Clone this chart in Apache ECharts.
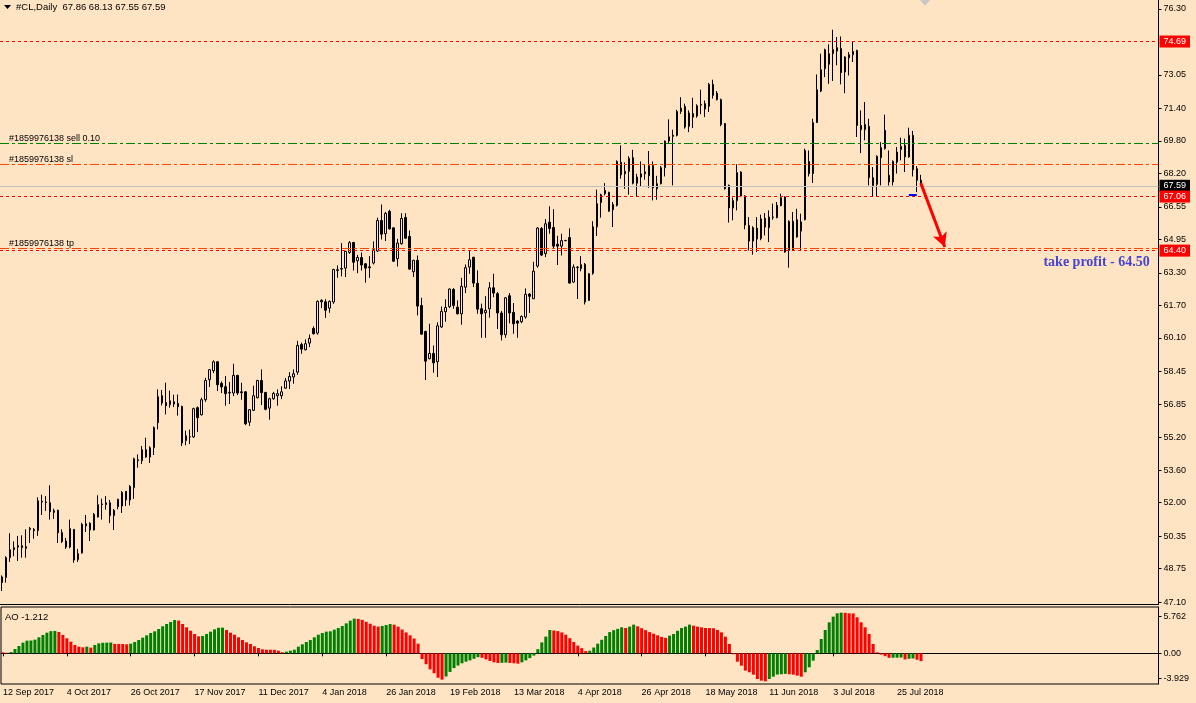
<!DOCTYPE html>
<html><head><meta charset="utf-8">
<script src="https://cdn.jsdelivr.net/npm/echarts@6/dist/echarts.min.js"></script>
<style>html,body{margin:0;padding:0;background:#FFE4C4;overflow:hidden}#c{width:1196px;height:703px}</style>
</head><body><div id="c"></div>
<script>
const opens = [48.06,48.31,49.29,49.68,49.81,49.88,49.83,50.67,50.68,50.62,
52.06,52.03,51.99,51.60,51.62,50.52,50.11,49.81,50.68,49.19,
49.52,50.85,50.98,50.65,51.29,51.93,51.90,51.99,51.36,52.16,
51.83,52.55,52.13,52.73,54.06,54.06,54.60,54.24,54.70,55.93,
57.26,56.92,56.82,56.96,56.88,56.73,55.05,55.24,55.23,56.67,
56.32,57.06,58.05,58.49,58.93,57.87,57.70,57.39,57.39,58.26,
57.45,57.45,55.96,56.54,57.16,58.01,57.42,56.65,57.11,57.26,
57.26,57.63,57.98,58.18,58.42,59.78,59.52,59.85,60.57,60.34,
61.95,61.88,61.57,61.87,63.42,63.49,63.54,64.31,64.80,63.90,
64.06,63.75,63.60,63.79,64.38,65.88,65.23,66.33,65.52,64.00,
64.74,66.03,65.10,63.36,63.92,61.70,60.42,59.08,59.34,58.93,
60.64,61.39,61.64,62.49,61.62,61.29,62.60,63.59,64.07,62.79,
61.54,61.34,61.54,62.57,62.28,61.33,60.26,62.18,61.36,60.93,
60.90,61.13,62.26,62.03,63.64,65.49,64.26,65.80,65.54,64.71,
64.62,64.90,65.05,62.85,63.56,63.51,63.72,61.95,63.28,65.57,
66.76,67.20,67.26,66.41,66.62,68.74,68.18,68.30,68.97,68.02,
68.02,68.18,68.08,68.58,67.44,67.69,68.48,69.79,70.02,70.07,
71.25,71.49,70.51,71.14,71.02,71.56,71.63,71.50,72.58,72.15,
71.83,70.65,67.61,66.50,66.86,68.27,67.09,65.64,64.87,65.50,
64.99,65.99,65.53,66.05,66.02,66.61,67.04,64.41,65.84,65.07,
65.36,65.92,68.79,68.19,70.70,72.25,73.35,73.57,74.09,74.22,
74.34,73.19,73.89,74.04,74.25,70.56,70.35,70.51,67.99,67.66,
68.97,69.42,68.10,67.78,68.76,69.37,69.58,69.01,70.07,68.43,
67.86];
const highs = [48.42,49.36,50.49,50.09,50.36,50.39,50.68,50.80,50.75,52.26,
52.39,52.32,52.85,51.70,51.65,50.68,50.26,51.16,50.70,49.72,
51.00,51.39,51.03,51.49,52.36,52.19,52.32,52.13,51.68,52.19,
52.57,52.57,52.86,54.21,54.37,54.78,55.19,54.77,55.75,57.57,
57.54,57.90,57.51,57.31,57.32,56.77,55.54,55.59,56.67,56.73,
57.16,58.14,58.57,59.00,58.95,57.96,58.23,57.93,58.83,58.29,
57.90,57.48,56.60,57.75,58.04,58.55,57.45,57.16,57.45,57.57,
57.72,58.13,58.42,58.55,59.96,59.87,60.03,60.27,60.67,61.95,
62.01,62.01,61.95,63.51,63.67,64.77,64.39,64.87,64.83,64.19,
64.31,63.79,64.13,64.85,66.02,66.67,66.31,66.41,65.55,64.98,
66.24,66.24,65.39,63.95,64.16,62.08,60.46,60.80,59.73,60.87,
61.65,62.01,62.54,62.55,61.95,63.06,63.72,64.38,64.10,63.43,
61.79,62.16,62.85,63.26,62.36,61.43,62.11,62.31,61.82,60.97,
61.21,62.54,62.31,63.85,65.56,65.56,65.95,66.58,66.44,65.13,
65.23,64.93,65.49,63.72,63.64,64.13,63.79,63.30,65.85,67.40,
67.20,67.72,67.30,66.79,68.84,69.58,68.74,69.04,69.36,68.18,
68.79,68.64,69.30,68.79,68.08,68.56,69.82,70.86,70.35,71.33,
71.95,71.63,71.30,71.92,71.60,72.32,71.79,72.65,72.81,72.25,
71.88,70.68,67.65,67.01,68.65,68.30,67.12,66.05,65.60,66.05,
66.17,66.25,66.38,66.71,66.79,67.20,67.07,65.89,66.30,66.46,
66.22,69.42,69.33,70.89,73.07,74.09,74.34,74.55,75.27,74.91,
74.94,73.96,74.17,74.71,74.29,71.30,71.71,70.89,68.51,69.09,
69.74,71.09,69.33,68.84,69.50,69.96,69.91,70.45,70.29,68.56,
68.13];
const lows = [47.65,48.06,49.08,49.36,49.13,49.29,49.29,50.01,50.22,50.36,
51.39,51.59,51.16,51.19,50.01,50.01,49.72,49.75,49.04,49.08,
49.49,50.55,50.11,50.63,51.27,51.16,51.65,50.99,50.65,51.67,
51.49,51.83,51.86,52.18,53.72,53.90,54.21,53.95,54.34,55.60,
56.78,56.34,56.67,56.70,56.28,54.78,54.82,54.88,55.19,55.47,
56.29,56.96,57.69,58.37,57.49,57.39,56.77,56.85,57.24,57.29,
57.06,55.81,55.77,56.50,57.13,56.80,56.54,56.08,57.06,56.77,
57.09,57.60,57.59,57.85,58.29,59.32,59.49,59.65,60.27,60.26,
61.57,61.09,61.34,61.78,63.06,63.13,63.10,64.24,63.42,63.29,
63.42,62.82,63.06,63.72,64.33,64.95,64.87,65.44,63.85,63.62,
64.69,64.98,63.46,63.10,61.21,60.26,58.03,59.05,58.39,58.18,
60.60,60.90,61.57,61.54,61.26,60.75,62.31,63.26,62.61,61.29,
60.11,60.11,61.10,62.11,60.54,59.98,60.11,60.82,60.31,60.11,
60.83,61.05,61.33,62.02,63.56,64.13,64.08,65.23,64.51,63.69,
64.16,64.86,62.79,62.82,62.02,63.38,61.75,61.92,63.21,65.12,
66.02,67.12,66.31,65.56,66.57,67.94,67.44,67.15,67.66,67.07,
67.53,67.89,67.49,66.87,66.90,67.66,68.05,69.66,67.61,70.02,
71.13,70.40,70.23,70.43,70.94,71.11,70.97,71.22,71.88,71.79,
70.52,67.40,65.78,65.89,66.38,67.04,65.45,64.41,64.20,64.33,
64.91,65.15,64.82,65.92,65.99,66.58,64.30,63.56,64.38,65.04,
64.38,65.89,68.05,67.73,70.68,72.20,72.94,72.61,72.75,73.52,
72.58,72.15,73.02,73.68,69.99,69.20,69.83,67.61,67.07,67.07,
67.61,69.37,67.60,67.61,68.19,68.84,68.27,68.97,68.05,67.28,
67.55];
const closes = [48.34,49.29,49.68,49.78,49.88,49.78,49.75,50.73,50.62,52.09,
52.03,52.01,51.55,51.52,50.52,50.09,49.81,50.72,49.17,49.49,
50.93,50.96,50.65,51.42,51.90,51.91,51.99,51.36,51.62,51.80,
52.50,52.13,52.80,54.16,54.11,54.60,54.24,54.70,55.69,57.21,
56.90,56.77,57.01,56.85,56.72,54.93,55.29,55.23,56.62,56.18,
57.06,58.01,58.54,58.93,57.80,57.69,57.36,57.42,58.26,57.39,
57.41,55.88,56.57,57.26,58.01,57.41,56.59,57.11,57.37,57.36,
57.45,57.99,58.21,58.34,59.73,59.55,59.82,60.08,60.31,61.90,
61.88,61.47,61.90,63.47,63.46,63.52,64.36,64.79,63.83,64.06,
63.69,63.54,63.56,64.44,65.88,65.21,66.23,65.47,63.88,64.77,
65.98,65.01,63.49,63.92,61.67,60.29,58.96,59.34,58.88,60.70,
61.41,61.60,62.51,61.70,61.29,62.64,63.56,63.95,62.80,61.52,
61.29,61.46,62.57,62.31,61.33,60.26,62.08,61.33,60.80,60.83,
61.16,62.25,62.15,63.39,65.51,64.18,65.72,65.49,64.62,64.62,
64.89,64.89,62.80,63.59,63.59,63.71,61.87,63.26,65.57,66.71,
67.15,67.36,66.34,66.67,68.79,68.13,68.30,68.94,67.72,67.72,
68.18,68.28,68.58,67.49,67.69,68.48,69.79,70.00,70.08,71.25,
71.41,70.48,71.17,70.97,71.53,71.60,71.37,72.58,72.04,71.83,
70.61,67.45,66.50,66.86,68.24,67.09,65.66,64.87,65.53,64.97,
65.96,65.56,66.05,66.04,66.63,67.00,64.33,65.84,64.41,65.92,
65.81,69.33,68.19,70.70,72.32,73.30,74.29,74.09,74.29,74.39,
73.16,73.93,74.04,74.20,70.56,70.35,70.61,67.99,67.61,69.04,
69.47,70.32,67.78,68.79,69.25,69.53,69.01,70.07,68.38,67.86,
67.59];
const aoValues = [0.15,0.08,0.20,0.67,1.14,1.66,1.97,1.99,2.12,2.49,
2.85,3.21,3.45,3.48,3.32,2.85,2.33,1.81,1.30,1.04,
0.93,1.04,0.88,1.30,1.55,1.64,1.66,1.68,1.47,1.46,
1.45,1.40,1.50,1.76,2.07,2.44,2.80,3.16,3.42,3.78,
4.20,4.56,4.87,5.18,5.08,4.56,4.04,3.52,3.01,2.64,
2.69,3.01,3.37,3.73,3.98,3.99,3.63,3.21,2.90,2.49,
2.07,1.71,1.45,1.09,0.83,0.62,0.57,0.56,0.55,0.41,
0.16,0.26,0.41,0.57,1.04,1.40,1.76,2.07,2.49,2.90,
3.16,3.37,3.42,3.68,3.94,4.25,4.66,5.08,5.39,5.35,
5.20,4.90,4.60,4.30,4.15,4.25,4.40,4.55,4.45,4.15,
3.70,3.25,2.80,2.30,1.50,-0.90,-1.70,-2.50,-3.10,-3.80,
-4.10,-3.60,-2.90,-2.30,-1.90,-1.55,-1.30,-1.10,-0.85,-0.60,
-0.70,-0.95,-1.20,-1.40,-1.50,-1.48,-1.45,-1.50,-1.55,-1.60,
-1.40,-1.10,-0.75,-0.35,0.65,1.70,2.60,3.63,3.55,3.45,
3.25,2.90,2.35,1.75,1.20,0.80,0.35,0.40,0.90,1.50,
2.10,2.70,3.30,3.60,3.80,4.04,3.94,4.15,4.46,4.20,
3.90,3.60,3.30,3.05,2.80,2.55,2.40,2.75,3.00,3.50,
3.94,4.15,4.46,4.30,4.15,4.04,3.94,3.92,3.90,3.63,
3.26,2.59,1.45,-0.15,-1.30,-1.92,-2.69,-2.95,-3.32,-3.99,
-4.25,-4.35,-3.99,-3.63,-3.30,-3.25,-3.20,-3.25,-3.32,-3.47,
-3.63,-2.95,-2.18,-1.14,0.52,2.23,3.63,4.82,5.70,6.22,
6.32,6.30,6.22,6.20,5.60,4.82,4.04,3.00,1.45,0.15,
-0.20,-0.45,-0.70,-0.69,-0.68,-0.66,-0.95,-0.85,-0.80,-1.00,
-1.212];
const dateLabels = ['12 Sep 2017','4 Oct 2017','26 Oct 2017','17 Nov 2017','11 Dec 2017','4 Jan 2018','26 Jan 2018','19 Feb 2018','13 Mar 2018','4 Apr 2018','26 Apr 2018','18 May 2018','11 Jun 2018','3 Jul 2018','25 Jul 2018'];
const priceTicks = [47.10,48.75,50.35,52.00,53.60,55.20,56.85,58.45,60.10,61.70,63.30,64.95,66.55,68.20,69.80,71.40,73.05,76.30];
const aoTicks = [5.762, 0, -3.929];
const redLevels = [74.69, 67.06, 64.40];
const bidPrice = 67.59;
const orderId = '#1859976138';
const sellPrice = 69.66, slPrice = 68.63, tpPrice = 64.50;
const arrowFrom = [230, 67.72], arrowTo = [236, 64.58];
const openMark = [227, 229, 67.15];
const tpNote = 'take profit - 64.50';
const tpNotePos = [274, 63.82];

const BG = '#FFE4C4';
const FONT = '"Liberation Sans", Arial, sans-serif';
const FS = 9;
const SLOTS = 290;
const LABEL_STEP = 16;
const cats = Array.from({length: SLOTS}, (_, i) => i);
const candleData = opens.map((o, i) => [o, closes[i], lows[i], highs[i]]);
const last = opens.length - 1;
const isDateIdx = (i) => i % LABEL_STEP === 0 && i / LABEL_STEP < dateLabels.length;

const boxLabel = (txt, bg) => ({show: true, position: 'end', formatter: txt, backgroundColor: bg, color: '#FFFFFF',
  padding: [2, 4, 1, 4], distance: 1, fontSize: FS, fontFamily: FONT});
const orderLabel = (txt) => ({show: true, position: 'insideStartTop', formatter: txt, color: '#000',
  fontSize: FS, fontFamily: FONT, distance: [9, 1]});
const dashDot = [9, 3, 3, 3];

const markLines = [
  {yAxis: redLevels[0], lineStyle: {color: '#FF0000', type: [3, 3], width: 1}, label: boxLabel(redLevels[0].toFixed(2), '#FF0000')},
  {yAxis: sellPrice, lineStyle: {color: '#008000', type: dashDot, width: 1}, label: orderLabel(orderId + ' sell 0.10')},
  {yAxis: slPrice, lineStyle: {color: '#FF4500', type: dashDot, width: 1}, label: orderLabel(orderId + ' sl')},
  {yAxis: bidPrice, lineStyle: {color: '#C0C0C0', type: 'solid', width: 1}, label: boxLabel(bidPrice.toFixed(2), '#000000')},
  {yAxis: redLevels[1], lineStyle: {color: '#FF0000', type: [3, 3], width: 1}, label: boxLabel(redLevels[1].toFixed(2), '#FF0000')},
  {yAxis: tpPrice, lineStyle: {color: '#FF4500', type: dashDot, width: 1}, label: orderLabel(orderId + ' tp')},
  {yAxis: redLevels[2], lineStyle: {color: '#FF0000', type: [3, 3], width: 1}, label: boxLabel(redLevels[2].toFixed(2), '#FF0000')},
  [{coord: [openMark[0], openMark[2]], symbol: 'none', lineStyle: {color: '#0000FF', width: 2, type: 'solid'}},
   {coord: [openMark[1], openMark[2]], symbol: 'none'}],
  [{coord: arrowFrom, symbol: 'none', lineStyle: {color: '#FF0000', width: 3, type: 'solid'}},
   {coord: arrowTo, symbol: 'arrow', symbolSize: [11, 14]}]
];

const chart = echarts.init(document.getElementById('c'), null, {renderer: 'canvas'});
chart.setOption({
  animation: false,
  backgroundColor: BG,
  textStyle: {fontFamily: FONT},
  grid: [
    {left: -1.5, right: 37.5, top: 0, height: 604, show: false},
    {left: -1.5, right: 37.5, top: 607, height: 77, show: true, borderColor: '#000', borderWidth: 1, backgroundColor: 'transparent'}
  ],
  xAxis: [
    {type: 'category', gridIndex: 0, data: cats, boundaryGap: true,
     axisLine: {show: true, lineStyle: {color: '#000', width: 1}}, axisTick: {show: false}, axisLabel: {show: false}, splitLine: {show: false}},
    {type: 'category', gridIndex: 1, data: cats, boundaryGap: true,
     axisLine: {show: true, lineStyle: {color: '#000', width: 1}},
     axisTick: {show: true, alignWithLabel: true, interval: (i) => isDateIdx(i), length: 3, lineStyle: {color: '#000'}},
     axisLabel: {show: true, interval: (i) => isDateIdx(i), formatter: (v, i) => isDateIdx(i) ? dateLabels[i / LABEL_STEP] : '',
       align: 'left', margin: 4, color: '#000', fontSize: FS, fontFamily: FONT},
     splitLine: {show: false}}
  ],
  yAxis: [
    {type: 'value', gridIndex: 0, position: 'right', min: 47.009, max: 76.733, scale: true,
     axisLine: {show: true, lineStyle: {color: '#000'}},
     axisTick: {show: true, customValues: priceTicks, length: 3, inside: false, lineStyle: {color: '#000'}},
     axisLabel: {show: true, customValues: priceTicks, formatter: (v) => v.toFixed(2), margin: 5, color: '#000', fontSize: FS, fontFamily: FONT},
     splitLine: {show: false}},
    {type: 'value', gridIndex: 1, position: 'right', min: -4.77, max: 7.2, scale: true,
     axisLine: {show: true, lineStyle: {color: '#000'}},
     axisTick: {show: true, customValues: aoTicks, length: 3, lineStyle: {color: '#000'}},
     axisLabel: {show: true, customValues: aoTicks, formatter: (v) => v === 0 ? '0.00' : v.toFixed(3), margin: 5, color: '#000', fontSize: FS, fontFamily: FONT},
     splitLine: {show: false}}
  ],
  series: [
    {type: 'candlestick', name: '#CL,Daily', xAxisIndex: 0, yAxisIndex: 0, data: candleData, barWidth: 2,
     itemStyle: {color: BG, color0: '#000000', borderColor: '#000000', borderColor0: '#000000', borderColorDoji: '#000000', borderWidth: 1},
     markLine: {silent: true, symbol: 'none', animation: false, label: {show: false}, data: markLines},
     markPoint: {silent: true, symbol: 'rect', symbolSize: 0, animation: false,
       data: [{coord: tpNotePos, label: {show: true, position: 'inside', formatter: tpNote, color: '#4545CF', fontSize: 14, fontWeight: 'bold', fontFamily: '"Liberation Serif", serif'}}]}},
    {type: 'bar', name: 'AO', xAxisIndex: 1, yAxisIndex: 1, data: aoValues, barWidth: 3,
     itemStyle: {color: (p) => (p.dataIndex > 0 && aoValues[p.dataIndex] > aoValues[p.dataIndex - 1]) ? '#008000' : '#FF0000'}}
  ],
  graphic: [
    {type: 'polygon', shape: {points: [[4, 5], [11, 5], [7.5, 9]]}, style: {fill: '#000'}},
    {type: 'text', left: 16, top: 2, style: {text: '#CL,Daily  ' + [opens[last], highs[last], lows[last], closes[last]].map(v => v.toFixed(2)).join(' '), fill: '#000', font: '9.5px ' + FONT}},
    {type: 'text', left: 5, top: 612, style: {text: 'AO ' + aoValues[last].toFixed(3), fill: '#000', font: '9.5px ' + FONT}},
    {type: 'polygon', shape: {points: [[920, 0], [930, 0], [925, 6]]}, style: {fill: '#C8C8C8'}}
  ]
});
</script>
</body></html>
